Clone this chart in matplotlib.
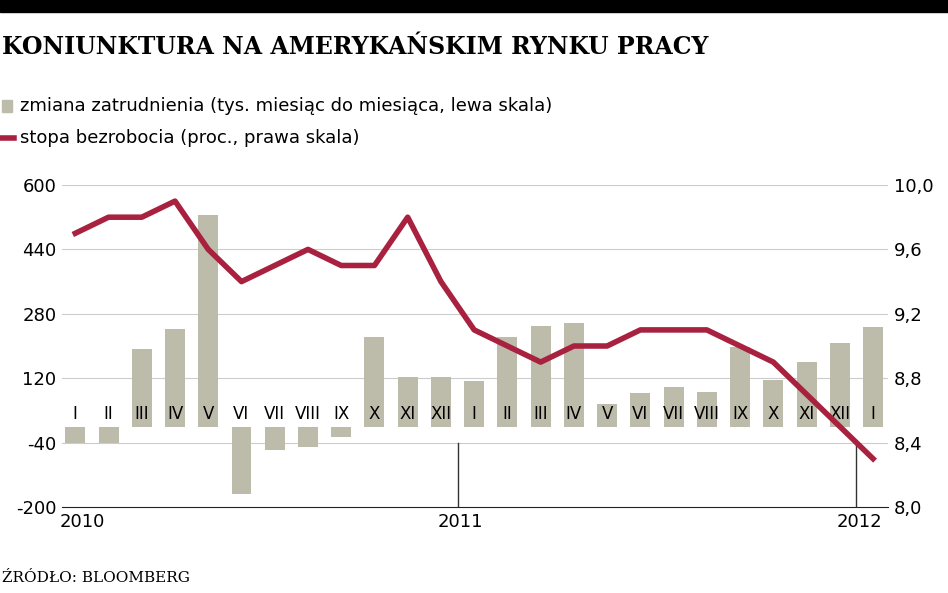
import matplotlib.pyplot as plt
import numpy as np

months = ['I', 'II', 'III', 'IV', 'V', 'VI', 'VII', 'VIII', 'IX', 'X', 'XI', 'XII',
          'I', 'II', 'III', 'IV', 'V', 'VI', 'VII', 'VIII', 'IX', 'X', 'XI', 'XII', 'I']
jobs = [-40, -40, 193, 242, 525, -168, -58, -51, -26, 222, 123, 123,
        113, 222, 250, 257, 56, 83, 98, 86, 198, 116, 160, 207, 248]
unemployment = [9.7, 9.8, 9.8, 9.9, 9.6, 9.4, 9.5, 9.6, 9.5, 9.5, 9.8, 9.4,
                9.1, 9.0, 8.9, 9.0, 9.0, 9.1, 9.1, 9.1, 9.0, 8.9, 8.7, 8.5, 8.3]
left_ticks = [600, 440, 280, 120, -40, -200]
right_ticks = ['10,0', '9,6', '9,2', '8,8', '8,4', '8,0']
years = ['2010', '2011', '2012']

bar_c = '#bdbcab'
line_c = '#a8213f'

fig = plt.figure(figsize=(9.48, 5.93), dpi=100)
ax = fig.add_axes([62/948, 86/593, 826/948, 322/593])
x = np.arange(len(jobs))

for t in left_ticks[:-1]:
    ax.axhline(t, color='#cccccc', lw=0.8, zorder=0)
ax.bar(x, jobs, width=0.6, color=bar_c, zorder=2)
for i, m in enumerate(months):
    ax.text(i, 8, m, ha='center', va='bottom', fontsize=12, zorder=3)
for xv in (11.5, 23.5):
    ax.plot([xv, xv], [-200, -40], color='#333333', lw=1, zorder=1)
ax.set_xlim(-0.4, 24.45)
ax.set_ylim(-200, 600)
ax.set_yticks(left_ticks)
ax.set_yticklabels([str(t) for t in left_ticks], fontsize=13)
ax.set_xticks([])
for s in ('top', 'left', 'right'):
    ax.spines[s].set_visible(False)
ax.spines['bottom'].set_color('#222222')
ax.tick_params(axis='y', length=0, pad=4)
for xv, yr in zip((0.2, 11.6, 23.6), years):
    ax.text(xv, -215, yr, ha='center', va='top', fontsize=13)

ax2 = ax.twinx()
ax2.plot(x, unemployment, color=line_c, lw=4, zorder=4)
ax2.set_ylim(8.0, 10.0)
ax2.set_yticks([10.0, 9.6, 9.2, 8.8, 8.4, 8.0])
ax2.set_yticklabels(right_ticks, fontsize=13)
ax2.tick_params(axis='y', length=0, pad=4)
for s in ('top', 'left', 'right', 'bottom'):
    ax2.spines[s].set_visible(False)

fig.patches.append(plt.Rectangle((0, 1 - 12/593), 1, 12/593, transform=fig.transFigure,
                                 color='black'))
fig.text(0.002, 1 - 47/593, 'KONIUNKTURA NA AMERYKAŃSKIM RYNKU PRACY', fontsize=17,
         fontweight='bold', family='DejaVu Serif', va='center')
fig.patches.append(plt.Rectangle((2/948, 1 - 112/593), 10/948, 12/593,
                                 transform=fig.transFigure, color=bar_c))
fig.text(20/948, 1 - 106/593, 'zmiana zatrudnienia (tys. miesiąc do miesiąca, lewa skala)',
         fontsize=13, va='center')
fig.lines.append(plt.Line2D([2/948, 14/948], [1 - 138/593] * 2, transform=fig.transFigure,
                            color=line_c, lw=4))
fig.text(20/948, 1 - 138/593, 'stopa bezrobocia (proc., prawa skala)', fontsize=13, va='center')
fig.text(0.002, 1 - 578/593, 'ŹRÓDŁO: BLOOMBERG', fontsize=11, family='DejaVu Serif',
         va='center')

fig.savefig('out.png')
